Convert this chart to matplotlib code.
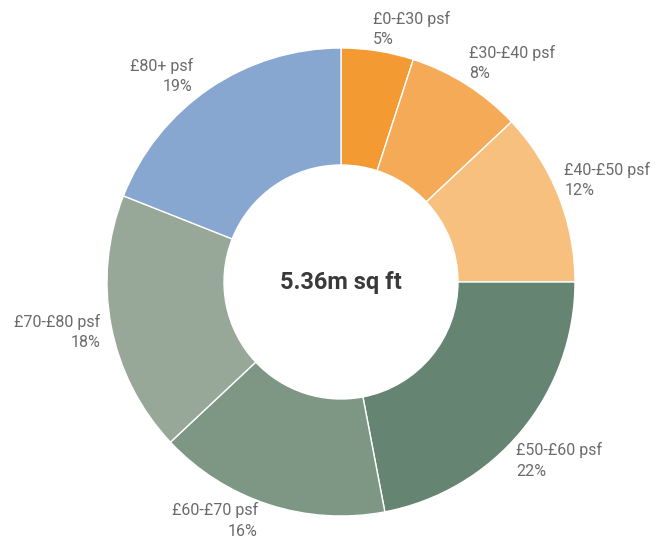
import matplotlib
matplotlib.use("Agg")
import matplotlib.pyplot as plt
import numpy as np

plt.rcParams["font.family"] = ["Roboto", "DejaVu Sans"]

#########################################################
########  Data  #########################################
#########################################################

bands = ["£0-£30 psf", "£30-£40 psf", "£40-£50 psf", "£50-£60 psf",
         "£60-£70 psf", "£70-£80 psf", "£80+ psf"]
shares = [5, 8, 12, 22, 16, 18, 19]
colours = ["#F39A33", "#F5AA58", "#F8C07F", "#668472",
           "#7E9684", "#98A898", "#87A7D1"]
total_label = "5.36m sq ft"

labels = [b + "\n" + str(s) + "%" for b, s in zip(bands, shares)]

# label placement tweaks (degrees off the wedge middle, distance as radius fraction)
label_turn = [1.8, 2.1, 3.0, -5.9, -1.2, 0.9, 1.5]
label_dist = [1.09, 1.085, 1.05, 1.07, 1.08, 1.05, 1.085]

#########################################################
########  Plot  #########################################
#########################################################

fig = plt.figure(figsize=(6.56, 5.41), dpi=100)
ax = fig.add_axes([0, 0, 1, 1])

cx, cy, R = 341, 259, 234
wedges, texts = ax.pie(
    shares,
    labels=labels,
    colors=colours,
    startangle=90,
    counterclock=False,
    center=(cx, cy),
    radius=R,
    wedgeprops=dict(width=R / 2, edgecolor="white", linewidth=1),
    textprops=dict(color="#6b6b6b", fontsize=11.5, linespacing=1.45),
)

for w, t, turn, d in zip(wedges, texts, label_turn, label_dist):
    ang = np.deg2rad((w.theta1 + w.theta2) / 2 + turn)
    t.set_position((cx + d * R * np.cos(ang), cy + d * R * np.sin(ang)))
    t.set_ha("left" if np.cos(ang) >= 0 else "right")
    t.set_va("center")

ax.text(cx, cy, total_label, ha="center", va="center",
        fontsize=17, fontweight="bold", color="#3a3a3a")

ax.set_xlim(0, 656)
ax.set_ylim(0, 541)
ax.set_aspect("equal")
ax.axis("off")

fig.savefig("out.png", dpi=100)
